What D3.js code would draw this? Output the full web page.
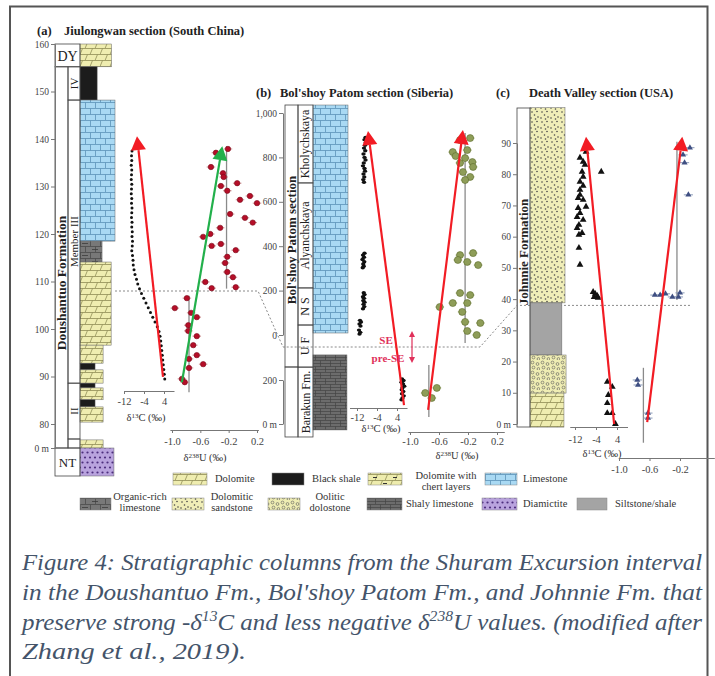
<!DOCTYPE html>
<html>
<head>
<meta charset="utf-8">
<script src="https://cdn.jsdelivr.net/npm/d3@7"></script>
<style>
  body { margin: 0; background: #fff; }
</style>
</head>
<body>
<script>
// ---------- data ----------
// (a) Jiulongwan: [depth m, value]
var jlwC13 = [
  [137.5,-8.8],[136.5,-9.0],[135.5,-8.9],[134.5,-9.1],[133.5,-8.9],[132.5,-9.0],[131.5,-9.1],[130.5,-8.9],
  [129.5,-9.0],[128.5,-9.1],[127.5,-8.9],[126.5,-9.0],[125.5,-8.8],[124.5,-8.9],[123.5,-9.0],[122.5,-8.8],
  [121.5,-8.9],[120.5,-8.7],[119.5,-8.8],[118.5,-8.6],[117.5,-8.7],[116.5,-8.9],[115.5,-8.6],[114.5,-8.4],
  [113.5,-8.3],[112.5,-8.0],[111.5,-7.6],[110.5,-7.0],[109.5,-6.5],[108.5,-5.8],[107.5,-5.0],[106.5,-4.1],
  [105.5,-3.2],[104.5,-2.3],[103.5,-1.4],[102.5,-0.5],[101.5,0.4],[100.5,1.3],[99.5,2.0],[98.5,2.4],
  [97.5,2.7],[96.5,2.9],[95.5,3.1],[94.5,3.3],[93.5,3.5],[92.5,3.7],[91.5,3.9],[90.5,4.1],[89.5,4.3]
];
var jlwU238 = [
  [137.1,-0.38],[137.9,-0.21],[134.1,-0.45],[132.8,-0.28],[132.0,-0.27],[130.1,-0.31],[129.1,-0.22],
  [130.7,-0.08],[127.2,-0.04],[128.0,0.10],[126.5,0.20],[124.2,-0.18],[123.4,0.03],[122.4,0.14],
  [121.3,-0.32],[120.0,-0.46],[119.4,-0.56],[117.5,-0.44],[117.9,-0.31],[116.6,-0.10],[115.2,-0.22],
  [113.9,-0.25],[112.0,-0.22],[110.9,-0.14],[109.9,-0.53],[108.6,-0.44],[108.8,-0.10],[106.5,-0.79],
  [104.4,-0.96],[103.4,-0.73],[102.5,-0.65],[100.8,-0.77],[99.6,-0.77],[98.5,-0.65],[96.6,-0.70],
  [94.5,-0.65],[93.7,-0.76],[92.6,-0.56],[91.8,-0.76],[89.5,-0.86],[88.8,-0.82]
];
var jlwUMean = [[-0.23, 138.5, 108.5], [-0.76, 107, 86.7]]; // value, top, base
var jlwLith = [
  {top:160, base:155.2, rock:"dolomite", w:0.9},
  {top:155.2, base:148.2, rock:"blackshale", w:0.49},
  {top:148.2, base:118.5, rock:"limestone", w:1},
  {top:118.5, base:114.1, rock:"orglime", w:0.63},
  {top:114.1, base:96.6, rock:"dolomite", w:0.89},
  {top:96.6, base:92.8, rock:"dolomite", w:0.66},
  {top:92.8, base:91.4, rock:"blackshale", w:0.43},
  {top:91.4, base:88.6, rock:"dolomite", w:0.66},
  {top:88.6, base:87.6, rock:"blackshale", w:0.43},
  {top:87.6, base:85.1, rock:"dolomite", w:0.66},
  {top:85.1, base:83.6, rock:"blackshale", w:0.43},
  {top:83.6, base:80.4, rock:"dolomite", w:0.66},
  {top:27, base:0, rock:"dolomite", w:0.66},
  {top:0, base:-9, rock:"diamictite", w:0.97}
];
var jlwMembers = [["IV",155.2,148.2],["Member III",148.2,88.6],["II",88.6,30],["",30,0]];
var jlwDepthTicks = [0,80,90,100,110,120,130,140,150,160];

// (b) Bol'shoy Patom: upper section depths, lower = Barakun Fm. depths
var bolC13Upper = [
  [890,-8.6],[880,-9.0],[868,-8.4],[855,-8.8],[842,-9.2],[830,-8.7],[815,-9.4],[800,-9.0],[788,-8.6],
  [775,-9.3],[762,-9.6],[750,-9.0],[738,-8.8],[725,-9.4],[712,-9.1],[700,-9.5],[688,-9.2],
  [368,-9.0],[360,-9.6],[350,-9.2],[340,-9.8],[330,-9.1],[320,-9.5],[310,-9.3],[303,-9.7],
  [190,-9.3],[182,-9.0],[172,-9.6],[165,-9.2],[155,-9.5],[148,-9.0],[138,-9.4],[128,-9.1],[118,-9.6],
  [66,-10.8],[58,-10.4],[50,-11.0],[40,-10.6],[22,-11.2],[12,-10.7],[4,-11.0]
];
var bolC13Lower = [
  [205,6.0],[198,6.6],[190,5.8],[182,6.4],[172,6.9],[165,6.2],[156,5.9],[148,6.5],[138,6.0],[128,6.7],[118,6.2],[110,5.8]
];
var bolU238Upper = [
  [824,-0.41],[833,-0.21],[779,-0.14],[775,-0.31],[757,-0.13],[734,-0.27],[712,-0.17],[698,-0.24],
  [878,-0.31],[887,-0.17],[806,-0.37],[797,-0.24],
  [360,-0.31],[369,-0.13],[329,-0.21],[315,-0.06],[338,-0.34],
  [189,-0.31],[180,-0.17],[144,-0.41],[144,-0.21],[126,-0.59],[104,-0.28],[59,-0.24],[54,-0.03],[18,-0.21],[0,-0.08]
];
var bolU238Lower = [[141,-0.79],[164,-0.63],[118,-0.70]];
var bolUMeanUpper = [-0.24, 910, -36];
var bolUMeanLower = [-0.74, 268, 32];
var bolLithUpper = [{top:1036, base:9, rock:"limestone", w:1}];
var bolLithLower = [{top:314, base:-27, rock:"shalylime", w:0.97}];
var bolMembersUpper = [["Kholychskaya",1036,685],["Alyanchskaya",685,212],["N S",212,45],["U F",45,-145]];
var bolMembersLower = [["Barakun Fm.",259,-59]];
var bolTicksUpper = [0,200,400,600,800,1000];
var bolTicksLower = [0,200];

// (c) Death Valley
var dvC13 = [
  [87.2,-7.8],[85.3,-10.1],[84.0,-8.9],[83.0,-8.2],[80.8,-9.3],[80.8,-2.0],[79.2,-8.9],[77.6,-10.1],
  [76.3,-8.9],[75.0,-10.1],[73.4,-10.1],[72.4,-10.8],[71.8,-8.9],[69.6,-7.8],[69.2,-10.8],[67.6,-10.1],
  [66.3,-11.2],[65.4,-8.9],[63.8,-10.5],[62.8,-11.2],[61.2,-9.3],[60.6,-10.5],[56.4,-10.5],[51.0,-10.1],
  [42.3,-5.1],[41.7,-4.3],[41.0,-3.5],[40.4,-3.2],[40.7,-4.7],
  [13.5,0.3],[11.9,2.2],[9.3,0.7],[6.7,0.3],[3.5,0.3],[3.5,2.2],[0,3.4]
];
var dvU238 = [
  [88.8,-0.20],[88.5,-0.07],[86.2,-0.16],[83.7,-0.14],[73.4,-0.09],
  [41.3,-0.53],[41.7,-0.39],[40.7,-0.30],[42.0,-0.20],[40.7,-0.22],[41.3,-0.46],
  [14.1,-0.76],[12.5,-0.75],[3.5,-0.62],[1.9,-0.62]
];
var dvUMean = [[-0.24, 90.4, 39.7], [-0.68, 18, -6]];
var dvLith = [
  {top:101.3, base:38.8, rock:"dolsand", w:1},
  {top:38.8, base:22.1, rock:"siltstone", w:0.91},
  {top:22.1, base:9.9, rock:"oolitic", w:1.03},
  {top:9.9, base:-1, rock:"dolomite", w:0.97}
];
var dvTicks = [0,10,20,30,40,50,60,70,80,90];

var uErr = 0.06;   // 2SD on d238U

var legendItems = [
  ["dolomite", ["Dolomite"]], ["blackshale", ["Black shale"]], ["dolochert", ["Dolomite with","chert layers"]],
  ["limestone", ["Limestone"]], ["orglime", ["Organic-rich","limestone"]], ["dolsand", ["Dolomitic","sandstone"]],
  ["oolitic", ["Oolitic","dolostone"]], ["shalylime", ["Shaly limestone"]], ["diamictite", ["Diamictite"]],
  ["siltstone", ["Siltstone/shale"]]
];

var captionLines = [
  "Figure 4: Stratigraphic columns from the Shuram Excursion interval",
  "in the Doushantuo Fm., Bol'shoy Patom Fm., and Johnnie Fm. that",
  null,
  "Zhang et al., 2019)."
];

// ---------- drawing ----------
var SERIF = "'Liberation Serif','Times New Roman',serif";
var svg = d3.select("body").append("svg").attr("width", 715).attr("height", 676);
var defs = svg.append("defs");

function pat(id, w, h, bg, d, stroke, sw) {
  var p = defs.append("pattern").attr("id", id).attr("patternUnits", "userSpaceOnUse")
    .attr("width", w).attr("height", h);
  p.append("rect").attr("width", w).attr("height", h).attr("fill", bg);
  if (d) p.append("path").attr("d", d).attr("stroke", stroke).attr("stroke-width", sw || 0.7).attr("fill", "none");
  return p;
}
var brick = "M0,0.5H20M0,6.5H20M0.5,0.5V6.5M10.5,0.5V6.5M5.5,6.5V12.5M15.5,6.5V12.5";
var slant = "M0,0.5H20M0,6.5H20M0,6.5L2.5,0.5M10,6.5L12.5,0.5M5,12.5L7.5,6.5M15,12.5L17.5,6.5";
pat("limestone", 20, 12, "#a9d9f3", brick, "#5d93b8", 0.8);
pat("dolomite", 20, 12, "#efedb0", slant, "#8f8d55", 0.8);
var dc = pat("dolochert", 20, 12, "#eeecae", slant, "#8f8d55", 0.8);
dc.append("path").attr("d", "M3,3.5H7M13,9.5H17").attr("stroke", "#333").attr("stroke-width", 1);
var og = pat("orglime", 20, 12, "#787878", brick, "#4b4b4b", 0.8);
og.append("path").attr("d", "M2,3.5H8M12,9.5H18").attr("stroke", "#3c3c3c").attr("stroke-width", 0.8);
pat("shalylime", 20, 12, "#6c6c6c", "M0,0.5H20M0,3.5H20M0,6.5H20M0,9.5H20M0.5,0.5V6.5M10.5,0.5V6.5M5.5,6.5V12.5M15.5,6.5V12.5", "#444", 0.7);
var ds = pat("dolsand", 10, 10, "#f0eeb8");
[[2,2],[7,1.5],[4.5,5],[1,8],[8,7],[5.5,9]].forEach(function(p){ ds.append("circle").attr("cx",p[0]).attr("cy",p[1]).attr("r",0.8).attr("fill","#444"); });
var oo = pat("oolitic", 10, 10, "#efedb3");
[[2.5,2.5],[7.5,4],[3.5,7.5],[8.5,9]].forEach(function(p){ oo.append("circle").attr("cx",p[0]).attr("cy",p[1]).attr("r",1.4).attr("fill","none").attr("stroke","#555").attr("stroke-width",0.6); });
var dm = pat("diamictite", 10, 10, "#b9a3de");
[[2.5,2.5],[7.5,2.5],[5,7.5],[0,7.5],[10,7.5]].forEach(function(p){ dm.append("circle").attr("cx",p[0]).attr("cy",p[1]).attr("r",1.1).attr("fill","#4d2e7e"); });

var rockFill = {
  limestone:"url(#limestone)", dolomite:"url(#dolomite)", dolochert:"url(#dolochert)", orglime:"url(#orglime)",
  shalylime:"url(#shalylime)", dolsand:"url(#dolsand)", oolitic:"url(#oolitic)", diamictite:"url(#diamictite)",
  blackshale:"#1c1c1c", siltstone:"#a4a4a4"
};

// frame
svg.append("path").attr("d", "M10,676V6.5H707.5V676").attr("fill", "none").attr("stroke", "#555").attr("stroke-width", 2);

function txt(x, y, s, o) {
  o = o || {};
  var t = svg.append("text").attr("x", x).attr("y", y).text(s)
    .attr("font-family", SERIF).attr("font-size", o.size || 10)
    .attr("font-weight", o.bold ? "bold" : "normal").attr("fill", o.fill || "#222")
    .attr("text-anchor", o.anchor || "start");
  if (o.rot) t.attr("transform", "rotate(-90," + x + "," + y + ")").attr("dominant-baseline", "central");
  return t;
}
function deltaTitle(x, y, iso, el) {
  var t = svg.append("text").attr("x", x).attr("y", y).attr("text-anchor", "middle")
    .attr("font-family", SERIF).attr("font-size", 10.5).attr("fill", "#333");
  t.append("tspan").text("δ");
  t.append("tspan").text(iso).attr("font-size", 7).attr("dy", -3.5);
  t.append("tspan").text(el + " (‰)").attr("dy", 3.5);
}
function styleAxis(g) {
  g.attr("font-family", SERIF).attr("font-size", 10);
  g.select(".domain").attr("stroke", "#777");
  g.selectAll(".tick line").attr("stroke", "#777");
  g.selectAll(".tick text").attr("fill", "#444");
}
function depthAxis(scale, ticks, fmt, x) {
  var g = svg.append("g").attr("transform", "translate(" + x + ",0)")
    .call(d3.axisLeft(scale).tickValues(ticks).tickFormat(fmt).tickSize(4).tickSizeOuter(0).tickPadding(2));
  styleAxis(g);
  g.selectAll(".tick text").attr("font-size", 9.5);
}
function valAxis(scale, lo, hi, ticks, y, fmt, pad) {
  var s = d3.scaleLinear().domain([lo, hi]).range([scale(lo), scale(hi)]);
  var g = svg.append("g").attr("transform", "translate(0," + y + ")")
    .call(d3.axisBottom(s).tickValues(ticks).tickFormat(fmt).tickSize(3).tickSizeOuter(0).tickPadding(pad));
  styleAxis(g);
  g.selectAll(".tick text").attr("font-size", 10.5);
}
var fmtC = function(d){ return String(d); };
var fmtU = function(d){ return d.toFixed(1); };

function lith(data, y, x0, width) {
  svg.append("g").selectAll("rect").data(data).enter().append("rect")
    .attr("x", x0).attr("y", function(d){ return y(d.top); })
    .attr("width", function(d){ return width * d.w; })
    .attr("height", function(d){ return y(d.base) - y(d.top); })
    .attr("fill", function(d){ return rockFill[d.rock]; })
    .attr("stroke", "#666").attr("stroke-width", 0.5);
}
function box(x, y, w, h) {
  svg.append("rect").attr("x", x).attr("y", y).attr("width", w).attr("height", h)
    .attr("fill", "none").attr("stroke", "#444").attr("stroke-width", 0.8);
}
function members(data, y, x0, w, size) {
  data.forEach(function(m) {
    var t = y(m[1]), b = y(m[2]);
    box(x0, t, w, b - t);
    if (m[0]) txt(x0 + w / 2, (t + b) / 2, m[0], {size: size, anchor: "middle", rot: true, fill: "#222"});
  });
}
function errBars(data, x, y, color) {
  svg.append("g").selectAll("line").data(data).enter().append("line")
    .attr("x1", function(d){ return x(d[1] - uErr); }).attr("x2", function(d){ return x(d[1] + uErr); })
    .attr("y1", function(d){ return y(d[0]); }).attr("y2", function(d){ return y(d[0]); })
    .attr("stroke", color).attr("stroke-width", 1);
}
function dots(data, x, y, r, fill, stroke) {
  svg.append("g").selectAll("circle").data(data).enter().append("circle")
    .attr("cx", function(d){ return x(d[1]); }).attr("cy", function(d){ return y(d[0]); })
    .attr("r", r).attr("fill", fill).attr("stroke", stroke || "none").attr("stroke-width", 0.6);
}
function tris(data, x, y, size, fill) {
  svg.append("g").selectAll("path").data(data).enter().append("path")
    .attr("d", d3.symbol().type(d3.symbolTriangle).size(size))
    .attr("transform", function(d){ return "translate(" + x(d[1]) + "," + y(d[0]) + ")"; })
    .attr("fill", fill);
}
function meanLine(v, t, b, x, yt, yb) {
  svg.append("line").attr("x1", x(v)).attr("x2", x(v)).attr("y1", yt(t)).attr("y2", yb(b))
    .attr("stroke", "#8a8a8a").attr("stroke-width", 1.3);
}
function arrow(x0, y0, x1, y1, color) {
  var dx = x1 - x0, dy = y1 - y0, L = Math.hypot(dx, dy), ux = dx / L, uy = dy / L;
  var hl = 14, hw = 7.5, bx = x1 - ux * hl, by = y1 - uy * hl;
  svg.append("line").attr("x1", x0).attr("y1", y0).attr("x2", bx).attr("y2", by)
    .attr("stroke", color).attr("stroke-width", 2.2);
  svg.append("path").attr("d", "M" + x1 + "," + y1 + "L" + (bx - uy * hw) + "," + (by + ux * hw) +
    "L" + (bx + uy * hw) + "," + (by - ux * hw) + "Z").attr("fill", color);
}
function dashed(pts) {
  svg.append("path").attr("d", d3.line()(pts)).attr("fill", "none")
    .attr("stroke", "#8a8a8a").attr("stroke-width", 1).attr("stroke-dasharray", "2,2");
}

var RED = "#f21c24", GREEN = "#22b04b";

// ===== panel (a) =====
var ya = d3.scaleLinear().domain([-9, 0, 80, 160]).range([476, 448, 424, 44]);
var yaAxis = d3.scaleLinear().domain([0, 80, 160]).range([448, 424, 44]);
var xCa = d3.scaleLinear().domain([-12, 4]).range([124, 164]);
var xUa = d3.scaleLinear().domain([-1.0, 0.2]).range([172, 257]);

txt(37, 35, "(a)", {size: 12.5, bold: true});
txt(64, 35, "Jiulongwan section (South China)", {size: 12.5, bold: true});

lith(jlwLith, ya, 80, 35);
box(55, ya(160), 25, ya(155.2) - ya(160));
txt(67.5, 61, "DY", {size: 14, anchor: "middle"});
box(55, ya(155.2), 13, ya(0) - ya(155.2));
txt(61.5, 283, "Doushantuo Formation", {size: 13.5, bold: true, anchor: "middle", rot: true});
members(jlwMembers, ya, 68, 12, 11);
box(55, ya(0), 25, ya(-9) - ya(0));
txt(67.5, 467, "NT", {size: 13, anchor: "middle"});
depthAxis(yaAxis, jlwDepthTicks, function(d){ return d === 0 ? "0 m" : d; }, 55);

dashed([[115, ya(108)], [258, ya(108)], [283, 347], [480, 347], [517, 305.4], [690, 305.4]]);

valAxis(xCa, -12, 8, [-12, -4, 4], 391, fmtC, 4);
deltaTitle(146, 421, "13", "C");
dots(jlwC13, xCa, ya, 1.5, "#111");
arrow(xCa(3.6), ya(89.9), xCa(-6.8), ya(140.6), RED);

valAxis(xUa, -1.03, 0.22, [-1.0, -0.6, -0.2, 0.2], 430, fmtU, 5);
deltaTitle(205, 461, "238", "U");
jlwUMean.forEach(function(m){ meanLine(m[0], m[1], m[2], xUa, ya, ya); });
errBars(jlwU238, xUa, ya, "#c98a8a");
dots(jlwU238, xUa, ya, 2.7, "#b50e28", "#7a0a1a");
arrow(xUa(-0.86), ya(88.8), xUa(-0.29), ya(138.5), GREEN);

// ===== panel (b) =====
var ybU = d3.scaleLinear().domain([0, 1000]).range([335, 113]);
var ybL = d3.scaleLinear().domain([0, 200]).range([424, 380]);
var xCb = d3.scaleLinear().domain([-12, 4]).range([357, 397]);
var xUb = d3.scaleLinear().domain([-1.0, 0.2]).range([410, 497]);

txt(256, 97, "(b)", {size: 12.5, bold: true});
txt(280, 97, "Bol'shoy Patom section (Siberia)", {size: 12.5, bold: true});

lith(bolLithUpper, ybU, 313, 35);
lith(bolLithLower, ybL, 313, 35);
box(285, ybU(1036), 13, 367 - ybU(1036));
box(285, 367, 13, ybL(-59) - 367);
txt(291.5, 240, "Bol'shoy Patom section", {size: 13, bold: true, anchor: "middle", rot: true});
members(bolMembersUpper, ybU, 298, 15, 12);
members(bolMembersLower, ybL, 298, 15, 12);
depthAxis(ybU, bolTicksUpper, function(d){ return d === 1000 ? "1,000" : d; }, 283);
depthAxis(ybL, bolTicksLower, function(d){ return d === 0 ? "0 m" : d; }, 283);

valAxis(xCb, -15, 8, [-12, -4, 4], 408, fmtC, 3);
deltaTitle(381, 432, "13", "C");
svg.append("g").selectAll("ellipse").data(bolC13Upper.map(function(d){ return [ybU(d[0]), xCb(d[1])]; })
  .concat(bolC13Lower.map(function(d){ return [ybL(d[0]), xCb(d[1])]; })))
  .enter().append("ellipse").attr("cx", function(d){ return d[1]; }).attr("cy", function(d){ return d[0]; })
  .attr("rx", 2.2).attr("ry", 1.7).attr("fill", "#111");
arrow(xCb(6.8), ybL(86), xCb(-7.6), ybU(919), RED);

valAxis(xUb, -1.03, 0.3, [-1.0, -0.6, -0.2, 0.2], 432, fmtU, 3);
deltaTitle(457, 459, "238", "U");
meanLine(bolUMeanUpper[0], bolUMeanUpper[1], bolUMeanUpper[2], xUb, ybU, ybU);
meanLine(bolUMeanLower[0], bolUMeanLower[1], bolUMeanLower[2], xUb, ybL, ybL);
errBars(bolU238Upper, xUb, ybU, "#9aa86a");
errBars(bolU238Lower, xUb, ybL, "#9aa86a");
dots(bolU238Upper, xUb, ybU, 3.5, "#8e9d58", "#5c6b2c");
dots(bolU238Lower, xUb, ybL, 3.5, "#8e9d58", "#5c6b2c");
arrow(xUb(-0.75), ybL(64), xUb(-0.27), ybU(923), RED);

// SE / pre-SE marker
var SEC = "#e0305a";
txt(386, 344, "SE", {size: 11, bold: true, fill: SEC, anchor: "middle"});
txt(388, 362, "pre-SE", {size: 11, bold: true, fill: SEC, anchor: "middle"});
svg.append("line").attr("x1", 412).attr("x2", 412).attr("y1", 335).attr("y2", 359).attr("stroke", SEC).attr("stroke-width", 1.2);
svg.append("path").attr("d", "M412,331L409,337L415,337Z M412,363L409,357L415,357Z").attr("fill", SEC);

// ===== panel (c) =====
var yc = d3.scaleLinear().domain([0, 90]).range([424, 143]);
var xCc = d3.scaleLinear().domain([-12, 4]).range([575, 617]);
var xUc = d3.scaleLinear().domain([-1.0, -0.2]).range([619, 680]);

txt(496, 97, "(c)", {size: 12.5, bold: true});
txt(529, 97, "Death Valley section (USA)", {size: 12.5, bold: true});

lith(dvLith, yc, 530, 35);
box(517, 108, 13, 319);
txt(523.5, 252, "Johnnie Formation", {size: 13, bold: true, anchor: "middle", rot: true});
depthAxis(yc, dvTicks, function(d){ return d === 0 ? "0 m" : d; }, 517);

valAxis(xCc, -14, 8, [-12, -4, 4], 427, fmtC, 6);
deltaTitle(602, 457, "13", "C");
tris(dvC13, xCc, yc, 20, "#111");
arrow(xCc(2.9), yc(0), xCc(-7.8), yc(92), RED);

valAxis(xUc, -1.0, 0.25, [-1.0, -0.6, -0.2], 458, fmtU, 5);
dvUMean.forEach(function(m){ meanLine(m[0], m[1], m[2], xUc, yc, yc); });
errBars(dvU238, xUc, yc, "#8b9bb8");
tris(dvU238, xUc, yc, 16, "#3f4f82");
arrow(xUc(-0.63), yc(0.6), xUc(-0.17), yc(92), RED);

// ===== legend =====
var legPos = [
  [173,473,34,215,"s"], [272,473,32,312,"s"], [368,473,34,446,"m"], [485,473,32,523,"s"],
  [80,498,31,140,"m"], [172,498,32,232,"m"], [268,498,32,330,"m"], [367,498,35,406,"s"],
  [482,498,35,523,"s"], [577,498,30,615,"s"]
];
legendItems.forEach(function(it, i) {
  var p = legPos[i];
  svg.append("rect").attr("x", p[0]).attr("y", p[1]).attr("width", p[2]).attr("height", 12)
    .attr("fill", rockFill[it[0]]).attr("stroke", "#888").attr("stroke-width", 0.5);
  if (it[1].length === 2) {
    var dy = p[1] === 473 ? 6 : 2;
    txt(p[3], p[1] + dy, it[1][0], {size: 10.5, anchor: "middle", fill: "#333"});
    txt(p[3], p[1] + dy + 11, it[1][1], {size: 10.5, anchor: "middle", fill: "#333"});
  } else {
    txt(p[3], p[1] + 9, it[1][0], {size: 10.5, fill: "#333"});
  }
});

// ===== caption =====
var CAP = "#44546a";
var capY = [570, 600, 630, 659];
var capLen = [680, 680, 680, 224];
captionLines.forEach(function(s, i) {
  var t = svg.append("text").attr("x", 22).attr("y", capY[i])
    .attr("font-family", SERIF).attr("font-style", "italic").attr("font-size", 24).attr("fill", CAP);
  if (s === null) {
    t.append("tspan").text("preserve strong -δ");
    t.append("tspan").text("13").attr("font-size", 15).attr("dy", -9);
    t.append("tspan").text("C and  less negative δ").attr("dy", 9);
    t.append("tspan").text("238").attr("font-size", 15).attr("dy", -9);
    t.append("tspan").text("U values. (modified after").attr("dy", 9);
  } else {
    t.text(s);
  }
  t.attr("textLength", capLen[i]).attr("lengthAdjust", "spacingAndGlyphs");
});
</script>
</body>
</html>
